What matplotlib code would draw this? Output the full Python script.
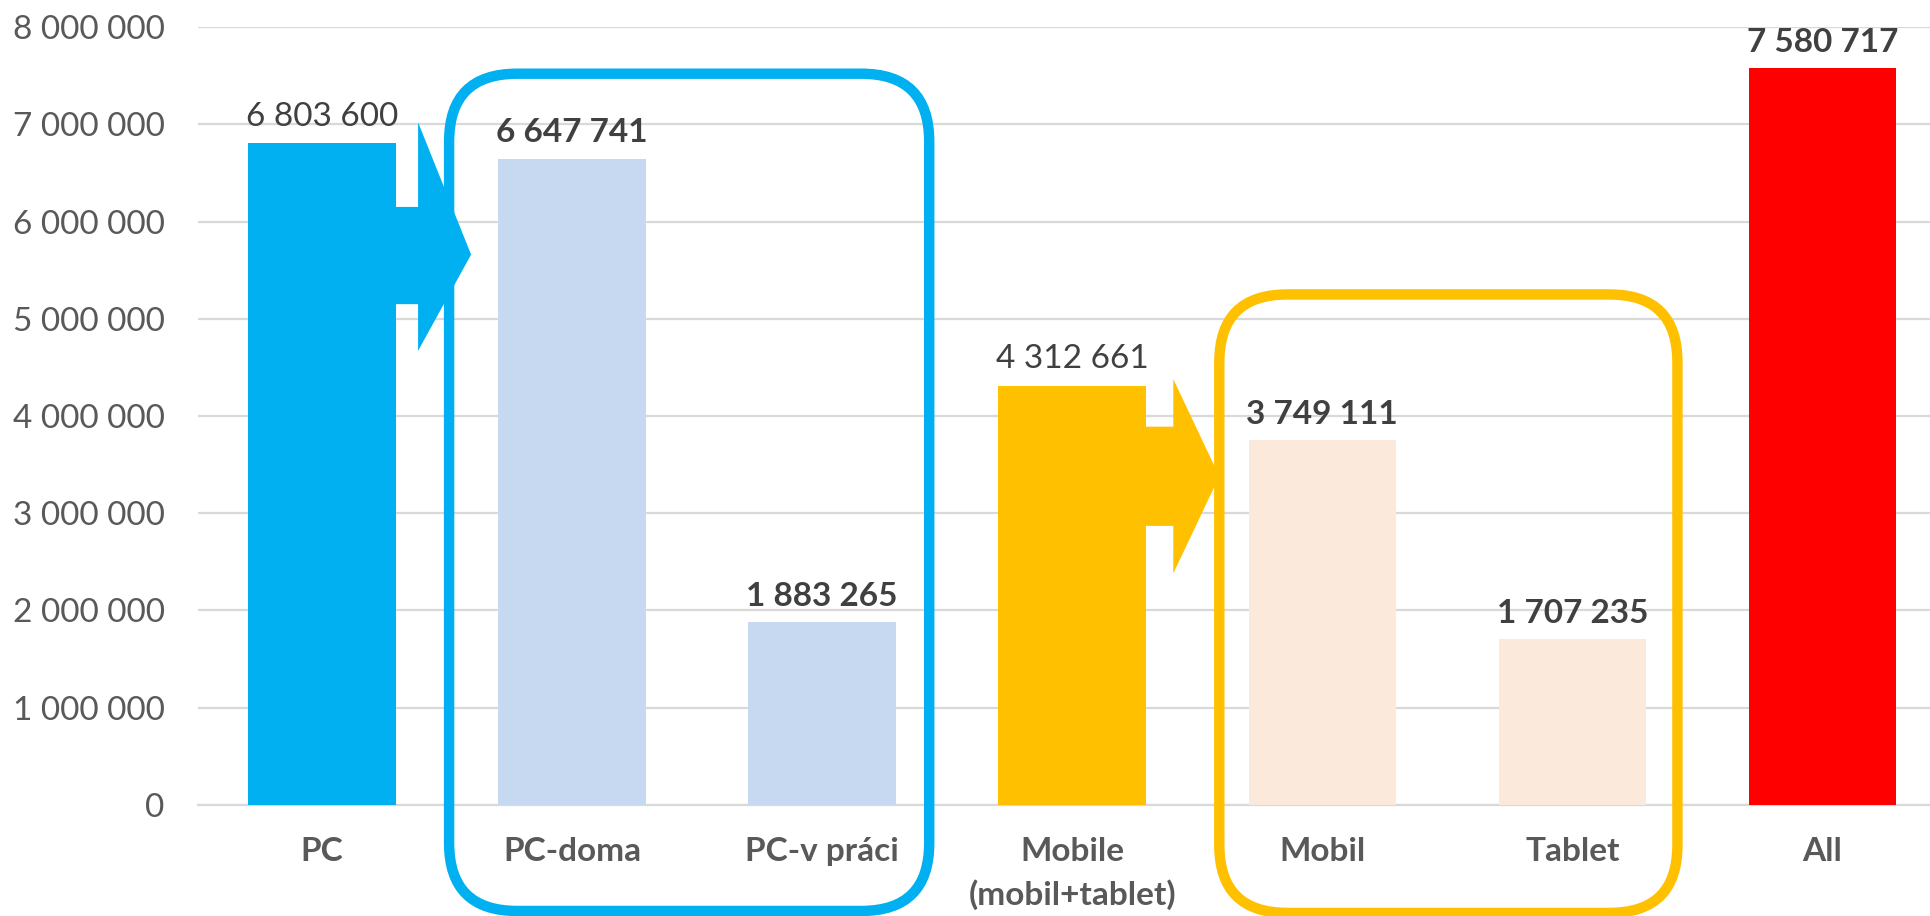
import numpy as np
import matplotlib.pyplot as plt
from matplotlib.patches import Polygon, FancyBboxPatch
from matplotlib.transforms import IdentityTransform

# data
categories = ['PC', 'PC-doma', 'PC-v práci', 'Mobile\n(mobil+tablet)', 'Mobil', 'Tablet', 'All']
values = [6803600, 6647741, 1883265, 4312661, 3749111, 1707235, 7580717]
bar_colors = ['#00B0F0', '#C6D9F0', '#C6D9F0', '#FFC000', '#FBE9DB', '#FBE9DB', '#FF0000']
bold_label = [False, True, True, False, True, True, True]
y_ticks = [0, 1000000, 2000000, 3000000, 4000000, 5000000, 6000000, 7000000, 8000000]

plt.rcParams['font.family'] = ['Lato', 'DejaVu Sans']


def fmt(v):
    return '{:,}'.format(int(v)).replace(',', ' ')


fig = plt.figure(figsize=(19.3, 9.16), dpi=100)
ax = fig.add_axes([0.1026, 0.1212, 0.8974, 0.8493])

x = np.arange(len(categories))
ax.bar(x, values, width=0.59, color=bar_colors, zorder=3)

for xi, v, b in zip(x, values, bold_label):
    ax.annotate(fmt(v), (xi, v), xytext=(0, 8), textcoords='offset points',
                ha='center', va='bottom', fontsize=24, color='#404040',
                weight='bold' if b else 'normal', clip_on=False, zorder=5)

ax.set_xlim(-0.496, 6.43)
ax.set_ylim(0, 8000000)
ax.set_yticks(y_ticks)
ax.set_yticklabels([fmt(t) for t in y_ticks], fontsize=24, color='#595959')
ax.set_xticks(x)
ax.set_xticklabels(categories, fontsize=24, weight='bold', color='#595959',
                   linespacing=1.5, va='top')
ax.tick_params(axis='both', length=0)
ax.tick_params(axis='x', pad=23)
ax.tick_params(axis='y', pad=24)

for s in ['top', 'right', 'left']:
    ax.spines[s].set_visible(False)
ax.spines['bottom'].set_color('#d9d9d9')
ax.spines['bottom'].set_linewidth(1.6)
ax.yaxis.grid(True, color='#d9d9d9', linewidth=1.6)
ax.set_axisbelow(True)

# block arrows from parent bars to their breakdown
blue_arrow = [(0.29, 6.15e6), (0.384, 6.15e6), (0.384, 7.02e6), (0.596, 5.66e6),
              (0.384, 4.67e6), (0.384, 5.15e6), (0.29, 5.15e6)]
ax.add_patch(Polygon(blue_arrow, closed=True, color='#00B0F0', zorder=4, lw=0))
yellow_arrow = [(3.29, 3.89e6), (3.404, 3.89e6), (3.404, 4.38e6), (3.588, 3.38e6),
                (3.404, 2.38e6), (3.404, 2.87e6), (3.29, 2.87e6)]
ax.add_patch(Polygon(yellow_arrow, closed=True, color='#FFC000', zorder=4, lw=0))

# rounded frames around the breakdowns, drawn in pixels so corners stay round
def frame(x0, y0, x1, y1, color):
    (px0, py0), (px1, py1) = ax.transData.transform([(x0, y0), (x1, y1)])
    box = FancyBboxPatch((px0, py0), px1 - px0, py1 - py0,
                         boxstyle='round,pad=0,rounding_size=68',
                         transform=IdentityTransform(), fill=False,
                         edgecolor=color, linewidth=7.5, zorder=6)
    fig.add_artist(box)


frame(0.508, -1.09e6, 2.428, 7.52e6, '#00B0F0')
frame(3.588, -1.11e6, 5.42, 5.25e6, '#FFC000')

fig.savefig('out.png', dpi=100)
